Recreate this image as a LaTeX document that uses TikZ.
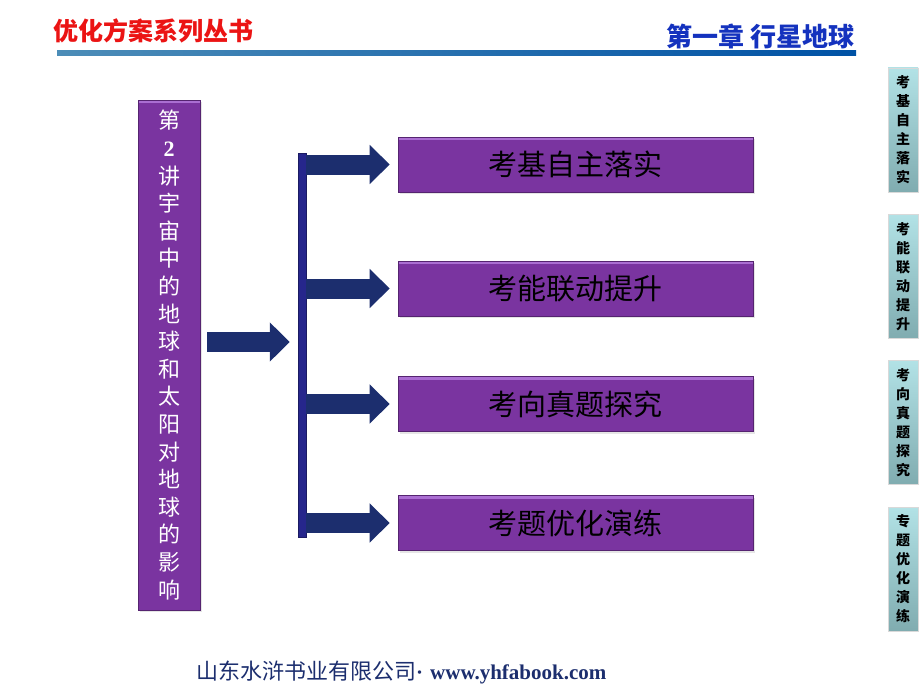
\documentclass[tikz,border=0pt]{standalone}
\usepackage{fontspec}
\setmainfont{Liberation Serif}
\newfontfamily\cjk{Noto Sans CJK SC}
\usetikzlibrary{arrows.meta,shadows}
\definecolor{viola}{RGB}{122,52,160}
\definecolor{violachiaro}{RGB}{170,110,210}
\definecolor{blunotte}{RGB}{28,46,110}
\definecolor{blubarra}{RGB}{38,38,140}
\definecolor{rosso}{RGB}{235,20,20}
\definecolor{blutitolo}{RGB}{20,50,190}
\definecolor{acquachiaro}{RGB}{178,226,230}
\definecolor{acquascuro}{RGB}{128,172,176}
\tikzset{
  boxviola/.style={fill=viola, draw=viola!70!black, line width=0.6pt,
    inner sep=0pt, drop shadow={shadow xshift=2pt, shadow yshift=-2pt, fill=black!20},
    path picture={\fill[violachiaro] (path picture bounding box.north west)
      rectangle ([yshift=-3pt]path picture bounding box.north east);}},
  freccia/.style={draw=blunotte, line width=20pt,
    -{Triangle[length=20pt,width=38pt]}},
  linguetta/.style={top color=acquachiaro, bottom color=acquascuro, draw=white!85!black,
    minimum width=30pt, minimum height=124pt, inner sep=0pt, align=center,
    font=\cjk\bfseries\fontsize{14}{19}\selectfont}
}

\begin{document}
\begin{tikzpicture}[x=1pt,y=-1pt]
\useasboundingbox (0,0) rectangle (920,690);
% intestazione
   \node[anchor=west, text=rosso, font=\cjk\bfseries\fontsize{25}{25}\selectfont]
   (collana) at (50,31) {优化方案系列丛书};
   \node[anchor=east, text=blutitolo, font=\cjk\bfseries\fontsize{26}{26}\selectfont]
   (capitolo) at (858,36) {第一章\ 行星地球};
   \shade[left color=blue!40!cyan!60!black!70, right color={rgb,255:red,0;green,82;blue,165}]
   (57,51) rectangle (856,56);
% titolo verticale
   \node[boxviola, minimum width=62pt, minimum height=510pt, text=white,
   align=center, font=\cjk\fontsize{22}{27.6}\selectfont] (titolo) at (169,355)
   {第\\{\rmfamily\bfseries 2}\\讲\\宇\\宙\\中\\的\\地\\球\\和\\太\\阳\\对\\地\\球\\的\\影\\响};
% barra
   \node[fill=blubarra, draw=blubarra!70!black, minimum width=8pt,
   minimum height=384pt, inner sep=0pt] (barra) at (302,345) {};
% riquadri
   \foreach \nome/\y/\testo in {b1/164.5/考基自主落实, b2/288.5/考能联动提升,
     b3/404/考向真题探究, b4/523/考题优化演练}
     \node[boxviola, minimum width=355pt, minimum height=55pt,
     font=\cjk\fontsize{29}{29}\selectfont, text=black] (\nome) at (575.5,\y)
     {\testo};
% frecce
   \draw[freccia, shorten <=7pt, shorten >=8pt] (titolo.east |- 0,342) -- (barra.west |- 0,342);
   \foreach \nome in {b1,b2,b3,b4}
     \draw[freccia, shorten >=8pt] (barra.east |- \nome) -- (\nome.west);
% linguette a destra
   \node[linguetta] (t1) at (903,130) {考\\基\\自\\主\\落\\实};
   \node[linguetta] (t2) at (903,276.5) {考\\能\\联\\动\\提\\升};
   \node[linguetta] (t3) at (903,422.5) {考\\向\\真\\题\\探\\究};
   \node[linguetta] (t4) at (903,569) {专\\题\\优\\化\\演\\练};
% piede
   \node[anchor=west, text=blunotte, inner sep=0pt] (editore) at (196,672)
   {{\cjk\fontsize{22}{22}\selectfont 山东水浒书业有限公司}{\fontsize{21}{21}\selectfont\bfseries·\hspace{7pt}www.yhfabook.com}};
\end{tikzpicture}
\end{document}
